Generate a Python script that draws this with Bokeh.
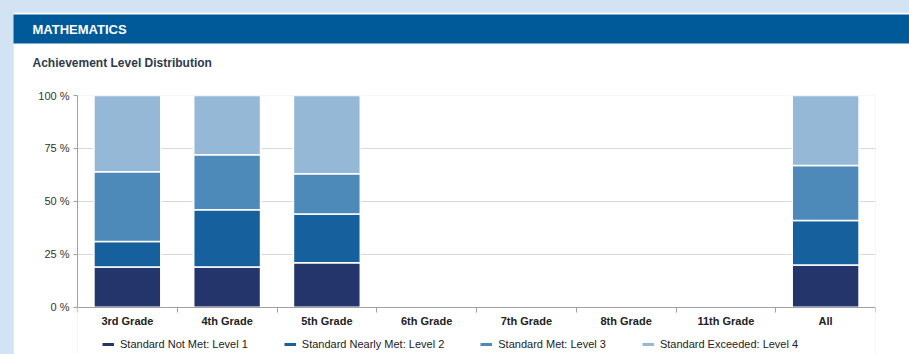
from bokeh.plotting import figure
from bokeh.models import (ColumnDataSource, Legend, LegendItem, FixedTicker, Title,
                          GlobalInlineStyleSheet)
from bokeh.embed import file_html
from bokeh.resources import INLINE

categories = ["3rd Grade", "4th Grade", "5th Grade", "6th Grade", "7th Grade", "8th Grade", "11th Grade", "All"]
level1 = [19, 19, 21, 0, 0, 0, 0, 20]
level2 = [12, 27, 23, 0, 0, 0, 0, 21]
level3 = [33, 26, 19, 0, 0, 0, 0, 26]
level4 = [36, 28, 37, 0, 0, 0, 0, 33]
series_names = ["Standard Not Met: Level 1", "Standard Nearly Met: Level 2",
                "Standard Met: Level 3", "Standard Exceeded: Level 4"]
y_ticks = [0, 25, 50, 75, 100]
y_tick_labels = ["0 %", "25 %", "50 %", "75 %", "100 %"]

colors = ["#24356b", "#16609d", "#4d8ab9", "#94b8d6"]
FONT = "Liberation Sans"

xs = list(range(len(categories)))
src = ColumnDataSource(dict(x=xs, l1=level1, l2=level2, l3=level3, l4=level4))

# frame extends below zero so the legend can sit under the x axis
p = figure(width=896, height=342, output_backend="svg", toolbar_location=None,
           x_range=(-0.5, len(categories) - 0.5), y_range=(-22.3, 100),
           min_border_left=64, min_border_right=34, min_border_top=0, min_border_bottom=0)
p.margin = (12, 0, 0, 13)
p.stylesheets = [GlobalInlineStyleSheet(css="html, body { background-color: #d2e3f3; margin: 0; }")]
p.outline_line_color = None
p.background_fill_color = "white"
p.border_fill_color = "white"

# header band (outermost)
p.title.text = "MATHEMATICS"
p.title.text_font = FONT
p.title.text_font_size = "13px"
p.title.text_font_style = "bold"
p.title.text_color = "white"
p.title.background_fill_color = "#005a9a"
p.title.align = "left"
p.title.offset = -64
p.title.standoff = 0
p.title.padding = dict(left=19, right=900, top=7, bottom=7)

# chart title (closest to frame)
p.add_layout(Title(text="Achievement Level Distribution", align="left", offset=-45, standoff=0,
                   text_font=FONT, text_font_size="12px", text_font_style="bold",
                   text_color="#2e3a4a",
                   padding=dict(left=0, right=0, top=10, bottom=26)), "above")

p.vbar_stack(["l1", "l2", "l3", "l4"], x="x", width=0.67, source=src,
             color=colors, line_color="white", line_width=1.5)

# axes
xa = p.xaxis[0]
xa.fixed_location = 0
xa.ticker = FixedTicker(ticks=xs, minor_ticks=[i - 0.5 for i in range(len(categories) + 1)])
xa.major_label_overrides = {i: c for i, c in enumerate(categories)}
xa.major_tick_line_color = None
xa.minor_tick_in = 0
xa.minor_tick_out = 5
xa.minor_tick_line_color = "#a0a0a0"
xa.axis_line_color = "#a0a0a0"
xa.major_label_text_font = FONT
xa.major_label_text_font_style = "bold"
xa.major_label_text_font_size = "11px"
xa.major_label_text_color = "#222222"
xa.major_label_standoff = 2

ya = p.yaxis[0]
ya.bounds = (0, 100)
ya.ticker = FixedTicker(ticks=y_ticks)
ya.major_label_overrides = {t: l for t, l in zip(y_ticks, y_tick_labels)}
ya.major_tick_in = 0
ya.major_tick_out = 4
ya.major_tick_line_color = "#a0a0a0"
ya.minor_tick_line_color = None
ya.axis_line_color = "#a0a0a0"
ya.major_label_text_font = FONT
ya.major_label_text_font_size = "11px"
ya.major_label_text_color = "#333333"
ya.major_label_standoff = 4

p.xgrid.visible = False
p.ygrid.ticker = FixedTicker(ticks=y_ticks[1:])
p.ygrid.grid_line_color = "#d8d8d8"

# legend with line glyphs, under the x axis
items = []
for name, c in zip(series_names, colors):
    r = p.line(x=[0, 0], y=[-50, -50], line_color=c, line_width=3)
    items.append(LegendItem(label=name, renderers=[r]))
leg = Legend(items=items, orientation="horizontal", location=(25, 4),
             border_line_color=None, background_fill_alpha=0,
             label_text_font=FONT, label_text_font_size="11px", label_text_color="#222222",
             glyph_width=12, glyph_height=10, label_height=12, spacing=36,
             padding=2, margin=0, label_standoff=6)
p.add_layout(leg)

open("out.html", "w").write(file_html(p, INLINE))
